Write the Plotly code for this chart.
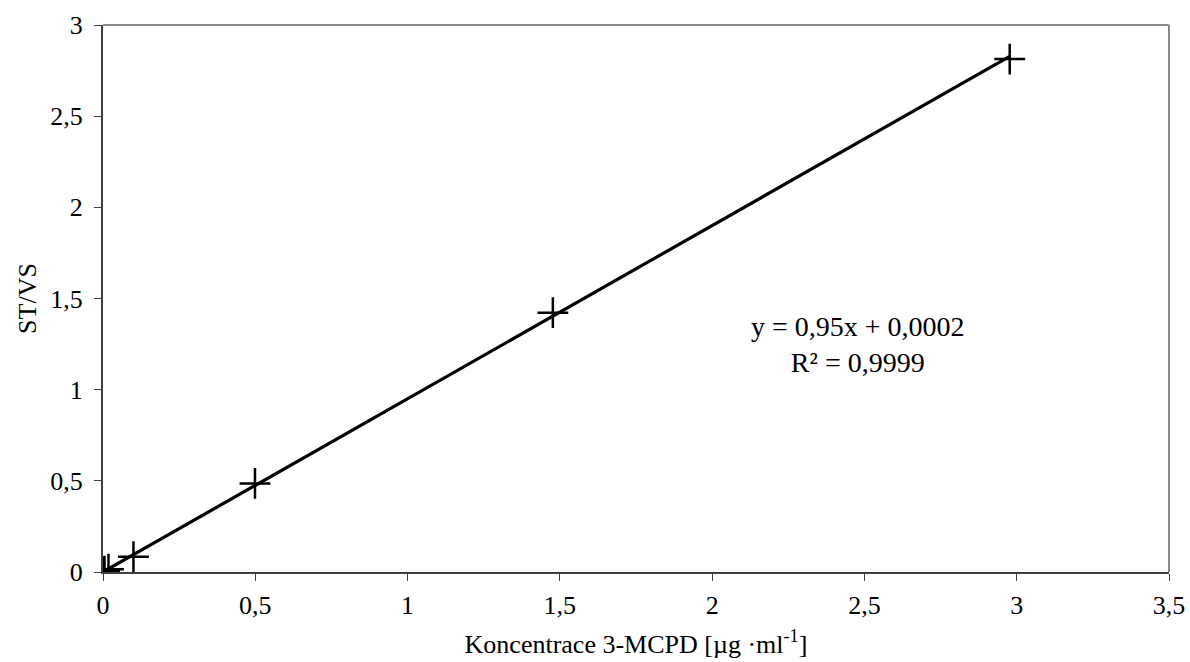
import plotly.graph_objects as go

# Data
conc = [0.0, 0.005, 0.018, 0.1, 0.499, 1.477, 2.977]
ratio = [0.0, 0.005, 0.015, 0.084, 0.486, 1.422, 2.813]
slope = 0.95
intercept = 0.0002
eq_text = "y = 0,95x + 0,0002<br>R² = 0,9999"
x_title = "Koncentrace 3-MCPD [µg ·ml<sup>-1</sup>]"
y_title = "ST/VS"
x_ticks = [0, 0.5, 1, 1.5, 2, 2.5, 3, 3.5]
y_ticks = [0, 0.5, 1, 1.5, 2, 2.5, 3]

font = "Liberation Serif, Times New Roman, serif"

fit_x = [0.0, max(conc)]
fit_y = [slope * v + intercept for v in fit_x]

fig = go.Figure()
fig.add_trace(go.Scatter(x=fit_x, y=fit_y, mode="lines",
                         line=dict(color="black", width=3.2), showlegend=False,
                         hoverinfo="skip"))
fig.add_trace(go.Scatter(x=conc, y=ratio, mode="markers",
                         marker=dict(symbol="cross-thin", size=22,
                                     line=dict(color="black", width=2.5)),
                         showlegend=False))

fig.add_annotation(x=2.478, y=1.249, xref="x", yref="y", text=eq_text,
                   showarrow=False, align="center",
                   font=dict(family=font, size=28, color="black"))

# gray top/right frame
fig.add_shape(type="line", xref="paper", yref="paper", x0=0, x1=1, y0=1, y1=1,
              line=dict(color="#888888", width=2))
fig.add_shape(type="line", xref="paper", yref="paper", x0=1, x1=1, y0=0, y1=1,
              line=dict(color="#888888", width=2))

fig.update_layout(
    width=1190, height=662,
    margin=dict(l=103, r=21, t=25, b=90),
    paper_bgcolor="white", plot_bgcolor="white",
    separators=", ",
    font=dict(family=font, size=26, color="black"),
)
fig.update_xaxes(range=[0, 3.5], tickvals=x_ticks, showgrid=False, zeroline=False,
                 showline=True, linecolor="#404040", linewidth=2,
                 ticks="outside", ticklen=7, tickcolor="#404040", tickwidth=1,
                 ticklabelstandoff=2, automargin=False,
                 tickfont=dict(family=font, size=26, color="black"),
                 title=dict(text=x_title, standoff=16,
                            font=dict(family=font, size=26, color="black")))
fig.update_yaxes(range=[0, 3], tickvals=y_ticks, showgrid=False, zeroline=False,
                 showline=True, linecolor="#404040", linewidth=2,
                 ticks="outside", ticklen=7, tickcolor="#404040", tickwidth=1,
                 ticklabelstandoff=6, automargin=False,
                 tickfont=dict(family=font, size=26, color="black"),
                 title=dict(text=y_title, standoff=6,
                            font=dict(family=font, size=26, color="black")))

fig.write_html("out.html")
